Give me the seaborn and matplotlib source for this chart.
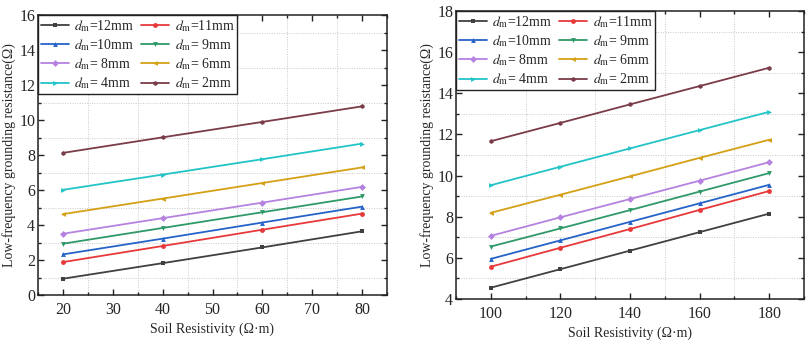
import matplotlib
matplotlib.use("Agg")
import matplotlib.pyplot as plt
from matplotlib.ticker import MultipleLocator
import seaborn as sns
import pandas as pd

sns.set_style("ticks")
plt.rcParams['font.family'] = ['Liberation Serif', 'DejaVu Serif']
plt.rcParams['mathtext.fontset'] = 'stix'

labels = ["12mm", "11mm", "10mm", " 9mm", " 8mm", " 6mm", " 4mm", " 2mm"]
colors = ["#404040", "#e8393a", "#2563c9", "#2f9a68", "#b582e0", "#d4a015", "#22c4c8", "#7a3c48"]
markers = ["s", "o", "^", "v", "D", "<", ">", "h"]

x_left = [20, 40, 60, 80]
left_12 = [0.93, 1.82, 2.72, 3.64]
left_11 = [1.88, 2.80, 3.73, 4.65]
left_10 = [2.32, 3.22, 4.14, 5.05]
left_9 = [2.93, 3.83, 4.73, 5.63]
left_8 = [3.50, 4.39, 5.28, 6.18]
left_6 = [4.62, 5.51, 6.40, 7.29]
left_4 = [6.01, 6.88, 7.76, 8.65]
left_2 = [8.12, 9.01, 9.89, 10.78]

x_right = [100, 120, 140, 160, 180]
right_12 = [4.55, 5.45, 6.35, 7.25, 8.15]
right_11 = [5.57, 6.49, 7.40, 8.33, 9.25]
right_10 = [5.95, 6.85, 7.75, 8.65, 9.55]
right_9 = [6.55, 7.43, 8.32, 9.22, 10.12]
right_8 = [7.07, 7.97, 8.86, 9.75, 10.65]
right_6 = [8.19, 9.07, 9.96, 10.86, 11.74]
right_4 = [9.53, 10.43, 11.32, 12.21, 13.10]
right_2 = [11.67, 12.56, 13.46, 14.35, 15.24]

left_series = [left_12, left_11, left_10, left_9, left_8, left_6, left_4, left_2]
right_series = [right_12, right_11, right_10, right_9, right_8, right_6, right_4, right_2]

fig = plt.figure(figsize=(8.09, 3.41), dpi=100)
W, H = 809, 341
axL = fig.add_axes([38 / W, (H - 295) / H, (387 - 38) / W, (295 - 15) / H])
axR = fig.add_axes([456 / W, (H - 299) / H, (804 - 456) / W, (299 - 11) / H])


def draw(ax, xs, series, xlim, ylim, xmaj, xmin, ymaj, ymin):
    for lab, col, mk, ys in zip(labels, colors, markers, series):
        df = pd.DataFrame({"x": xs, "y": ys})
        sns.lineplot(data=df, x="x", y="y", ax=ax, color=col, marker=mk,
                     markersize=3.5, markeredgewidth=0, linewidth=1.3,
                     label=r"$d_\mathrm{m}$=" + lab)
    ax.set_xlim(*xlim)
    ax.set_ylim(*ylim)
    ax.xaxis.set_major_locator(MultipleLocator(xmaj))
    ax.xaxis.set_minor_locator(MultipleLocator(xmin))
    ax.yaxis.set_major_locator(MultipleLocator(ymaj))
    ax.yaxis.set_minor_locator(MultipleLocator(ymin))
    ax.tick_params(which="both", direction="in", top=True, right=True,
                   labelsize=11.5, color="#222222")
    ax.tick_params(axis="x", pad=5)
    ax.tick_params(axis="y", pad=2)
    ax.tick_params(which="major", length=4, width=1)
    ax.tick_params(which="minor", length=2.5, width=1)
    ax.grid(False, which="major")
    ax.grid(True, which="minor", linestyle=(0, (1, 1.5)), color="#c8c8c8", linewidth=0.7)
    for s in ax.spines.values():
        s.set_linewidth(1.1)
        s.set_color("#222222")
    ax.set_xlabel("Soil Resistivity (Ω·m)", fontsize=10, labelpad=3)
    ax.set_ylabel("Low-frequency grounding resistance(Ω)", fontsize=10, labelpad=2)
    h, l = ax.get_legend_handles_labels()
    order = [0, 2, 4, 6, 1, 3, 5, 7]
    leg = ax.legend([h[i] for i in order], [l[i] for i in order], ncol=2,
                    loc="upper left", bbox_to_anchor=(0, 1), fontsize=10,
                    frameon=True, fancybox=False, framealpha=1, edgecolor="#222222",
                    borderpad=0.2, labelspacing=0.25, handlelength=2.0,
                    handletextpad=0.4, columnspacing=0.5, borderaxespad=0)
    leg.get_frame().set_linewidth(1.0)


draw(axL, x_left, left_series, (15, 85), (0, 16), 10, 5, 2, 1)
draw(axR, x_right, right_series, (90, 190), (4, 18), 20, 10, 2, 1)

fig.savefig("out.png", dpi=100)
